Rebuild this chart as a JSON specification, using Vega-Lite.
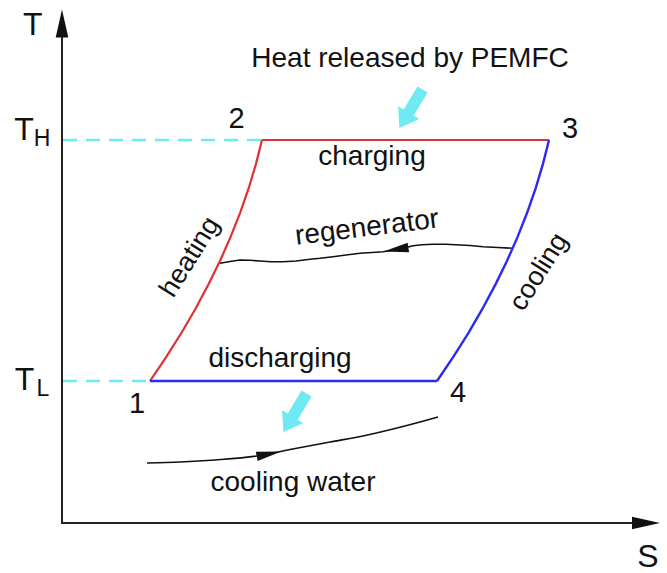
{
  "$schema": "https://vega.github.io/schema/vega-lite/v6.json",
  "width": 667,
  "height": 573,
  "autosize": {"type": "none"},
  "padding": 0,
  "config": {"view": {"stroke": null}, "text": {"font": "Liberation Sans", "color": "#111111"}},
  "datasets": {
    "paths": [
      {"p": "axisY", "i": 0, "s": 62, "t": 523}, {"p": "axisY", "i": 1, "s": 62, "t": 32},
      {"p": "axisX", "i": 0, "s": 61, "t": 523}, {"p": "axisX", "i": 1, "s": 638, "t": 523},
      {"p": "dashH", "i": 0, "s": 63, "t": 140}, {"p": "dashH", "i": 1, "s": 262, "t": 140},
      {"p": "dashL", "i": 0, "s": 63, "t": 381}, {"p": "dashL", "i": 1, "s": 150, "t": 381},
      {"p": "top", "i": 0, "s": 262, "t": 140}, {"p": "top", "i": 1, "s": 549, "t": 140},
      {"p": "heating", "i": 0, "s": 150, "t": 381},
      {"p": "heating", "i": 1, "s": 166.3, "t": 356.9},
      {"p": "heating", "i": 2, "s": 181.5, "t": 332.8},
      {"p": "heating", "i": 3, "s": 195.5, "t": 308.7},
      {"p": "heating", "i": 4, "s": 208.4, "t": 284.6},
      {"p": "heating", "i": 5, "s": 220.2, "t": 260.5},
      {"p": "heating", "i": 6, "s": 230.8, "t": 236.4},
      {"p": "heating", "i": 7, "s": 240.3, "t": 212.3},
      {"p": "heating", "i": 8, "s": 248.7, "t": 188.2},
      {"p": "heating", "i": 9, "s": 255.9, "t": 164.1},
      {"p": "heating", "i": 10, "s": 262, "t": 140},
      {"p": "bottom", "i": 0, "s": 150, "t": 381}, {"p": "bottom", "i": 1, "s": 437, "t": 381},
      {"p": "cooling", "i": 0, "s": 437, "t": 381},
      {"p": "cooling", "i": 1, "s": 453.3, "t": 356.9},
      {"p": "cooling", "i": 2, "s": 468.5, "t": 332.8},
      {"p": "cooling", "i": 3, "s": 482.5, "t": 308.7},
      {"p": "cooling", "i": 4, "s": 495.4, "t": 284.6},
      {"p": "cooling", "i": 5, "s": 507.2, "t": 260.5},
      {"p": "cooling", "i": 6, "s": 517.8, "t": 236.4},
      {"p": "cooling", "i": 7, "s": 527.3, "t": 212.3},
      {"p": "cooling", "i": 8, "s": 535.7, "t": 188.2},
      {"p": "cooling", "i": 9, "s": 542.9, "t": 164.1},
      {"p": "cooling", "i": 10, "s": 549, "t": 140},
      {"p": "regen", "i": 0, "s": 513, "t": 248.3},
      {"p": "regen", "i": 1, "s": 498, "t": 247.5},
      {"p": "regen", "i": 2, "s": 483, "t": 246.7},
      {"p": "regen", "i": 3, "s": 470, "t": 245.5},
      {"p": "regen", "i": 4, "s": 460, "t": 245},
      {"p": "regen", "i": 5, "s": 446, "t": 244.2},
      {"p": "regen", "i": 6, "s": 433, "t": 244.3},
      {"p": "regen", "i": 7, "s": 422, "t": 244.8},
      {"p": "regen", "i": 8, "s": 413, "t": 245.7},
      {"p": "regen", "i": 9, "s": 400, "t": 249},
      {"p": "regen", "i": 10, "s": 383, "t": 251.7},
      {"p": "regen", "i": 11, "s": 372, "t": 252.5},
      {"p": "regen", "i": 12, "s": 360, "t": 253.3},
      {"p": "regen", "i": 13, "s": 346, "t": 255},
      {"p": "regen", "i": 14, "s": 333, "t": 256.7},
      {"p": "regen", "i": 15, "s": 320, "t": 258.3},
      {"p": "regen", "i": 16, "s": 310, "t": 259.3},
      {"p": "regen", "i": 17, "s": 296, "t": 261},
      {"p": "regen", "i": 18, "s": 283, "t": 261.7},
      {"p": "regen", "i": 19, "s": 271, "t": 261.8},
      {"p": "regen", "i": 20, "s": 260, "t": 261},
      {"p": "regen", "i": 21, "s": 250, "t": 260.3},
      {"p": "regen", "i": 22, "s": 240, "t": 260},
      {"p": "regen", "i": 23, "s": 230, "t": 261.5},
      {"p": "regen", "i": 24, "s": 220, "t": 263.3},
      {"p": "water", "i": 0, "s": 147, "t": 463},
      {"p": "water", "i": 1, "s": 180, "t": 462},
      {"p": "water", "i": 2, "s": 215, "t": 460},
      {"p": "water", "i": 3, "s": 257, "t": 456},
      {"p": "water", "i": 4, "s": 290, "t": 449.5},
      {"p": "water", "i": 5, "s": 330, "t": 442},
      {"p": "water", "i": 6, "s": 363, "t": 436},
      {"p": "water", "i": 7, "s": 397, "t": 428},
      {"p": "water", "i": 8, "s": 420, "t": 422},
      {"p": "water", "i": 9, "s": 438, "t": 417}
    ],
    "heads": [
      {"h": "up", "s": 62, "t": 23.5},
      {"h": "right", "s": 646, "t": 523},
      {"h": "regen", "s": 396, "t": 249.5},
      {"h": "water", "s": 269, "t": 454},
      {"h": "heat", "s": 411, "t": 108.7},
      {"h": "cool", "s": 295, "t": 412.8}
    ],
    "texts": [
      {"g": "main", "label": "Heat released by PEMFC", "s": 410, "t": 67},
      {"g": "main", "label": "charging", "s": 372, "t": 165},
      {"g": "main", "label": "discharging", "s": 280, "t": 367},
      {"g": "main", "label": "cooling water", "s": 293, "t": 491},
      {"g": "num", "label": "1", "s": 137, "t": 413},
      {"g": "num", "label": "2", "s": 236.5, "t": 128},
      {"g": "num", "label": "3", "s": 570, "t": 138},
      {"g": "num", "label": "4", "s": 458, "t": 402},
      {"g": "big", "label": "T", "s": 32.7, "t": 35},
      {"g": "big", "label": "S", "s": 648, "t": 567},
      {"g": "big", "label": "T", "s": 24, "t": 140},
      {"g": "big", "label": "T", "s": 24.5, "t": 390},
      {"g": "sub", "label": "H", "s": 42, "t": 146},
      {"g": "sub", "label": "L", "s": 43, "t": 396},
      {"g": "steep", "label": "heating", "s": 190, "t": 257},
      {"g": "steep", "label": "cooling", "s": 539, "t": 272},
      {"g": "tilt", "label": "regenerator", "s": 368, "t": 236}
    ]
  },
  "encoding": {
    "x": {"field": "s", "type": "quantitative", "scale": {"domain": [0, 667], "nice": false, "zero": false}, "axis": null},
    "y": {"field": "t", "type": "quantitative", "scale": {"domain": [0, 573], "reverse": true, "nice": false, "zero": false}, "axis": null}
  },
  "layer": [
    {"data": {"name": "paths"}, "transform": [{"filter": "datum.p === 'dashH' || datum.p === 'dashL'"}],
     "mark": {"type": "line", "color": "#6fe9f2", "strokeWidth": 2.5, "strokeDash": [14, 9]},
     "encoding": {"detail": {"field": "p"}, "order": {"field": "i"}}},
    {"data": {"name": "paths"}, "transform": [{"filter": "datum.p === 'axisY' || datum.p === 'axisX'"}],
     "mark": {"type": "line", "color": "#222222", "strokeWidth": 2},
     "encoding": {"detail": {"field": "p"}, "order": {"field": "i"}}},
    {"data": {"name": "paths"}, "transform": [{"filter": "datum.p === 'regen'"}],
     "mark": {"type": "line", "color": "#111111", "strokeWidth": 1.6},
     "encoding": {"order": {"field": "i"}}},
    {"data": {"name": "paths"}, "transform": [{"filter": "datum.p === 'water'"}],
     "mark": {"type": "line", "color": "#111111", "strokeWidth": 1.6, "interpolate": "monotone"},
     "encoding": {"order": {"field": "i"}}},
    {"data": {"name": "paths"}, "transform": [{"filter": "datum.p === 'top' || datum.p === 'heating'"}],
     "mark": {"type": "line", "color": "#e0302f", "strokeWidth": 2.2},
     "encoding": {"detail": {"field": "p"}, "order": {"field": "i"}}},
    {"data": {"name": "paths"}, "transform": [{"filter": "datum.p === 'bottom' || datum.p === 'cooling'"}],
     "mark": {"type": "line", "color": "#2a2af2", "strokeWidth": 2.4},
     "encoding": {"detail": {"field": "p"}, "order": {"field": "i"}}},
    {"data": {"name": "heads"}, "transform": [{"filter": "datum.h === 'up'"}],
     "mark": {"type": "point", "shape": "M1,0L-1,-0.45L-1,0.45Z", "filled": true, "color": "#111111", "opacity": 1, "size": 784, "angle": 270}},
    {"data": {"name": "heads"}, "transform": [{"filter": "datum.h === 'right'"}],
     "mark": {"type": "point", "shape": "M1,0L-1,-0.45L-1,0.45Z", "filled": true, "color": "#111111", "opacity": 1, "size": 784, "angle": 0}},
    {"data": {"name": "heads"}, "transform": [{"filter": "datum.h === 'regen'"}],
     "mark": {"type": "point", "shape": "M1,0L-1,-0.38L-1,0.38Z", "filled": true, "color": "#111111", "opacity": 1, "size": 625, "angle": 171}},
    {"data": {"name": "heads"}, "transform": [{"filter": "datum.h === 'water'"}],
     "mark": {"type": "point", "shape": "M1,0L-1,-0.38L-1,0.38Z", "filled": true, "color": "#111111", "opacity": 1, "size": 625, "angle": 349}},
    {"data": {"name": "heads"}, "transform": [{"filter": "datum.h === 'heat' || datum.h === 'cool'"}],
     "mark": {"type": "point", "shape": "M-1,-0.26L0.2,-0.26L0.2,-0.55L1,0L0.2,0.55L0.2,0.26L-1,0.26Z", "filled": true, "color": "#6fe9f2", "opacity": 1, "size": 2025, "angle": 121}},
    {"data": {"name": "texts"}, "transform": [{"filter": "datum.g === 'main'"}],
     "mark": {"type": "text", "fontSize": 28, "align": "center", "baseline": "alphabetic"},
     "encoding": {"text": {"field": "label"}}},
    {"data": {"name": "texts"}, "transform": [{"filter": "datum.g === 'num'"}],
     "mark": {"type": "text", "fontSize": 29, "align": "center", "baseline": "alphabetic"},
     "encoding": {"text": {"field": "label"}}},
    {"data": {"name": "texts"}, "transform": [{"filter": "datum.g === 'big'"}],
     "mark": {"type": "text", "fontSize": 32, "align": "center", "baseline": "alphabetic"},
     "encoding": {"text": {"field": "label"}}},
    {"data": {"name": "texts"}, "transform": [{"filter": "datum.g === 'sub'"}],
     "mark": {"type": "text", "fontSize": 23, "align": "center", "baseline": "alphabetic"},
     "encoding": {"text": {"field": "label"}}},
    {"data": {"name": "texts"}, "transform": [{"filter": "datum.g === 'steep'"}],
     "mark": {"type": "text", "fontSize": 27, "align": "center", "baseline": "middle", "angle": 302},
     "encoding": {"text": {"field": "label"}}},
    {"data": {"name": "texts"}, "transform": [{"filter": "datum.g === 'tilt'"}],
     "mark": {"type": "text", "fontSize": 28, "align": "center", "baseline": "alphabetic", "angle": 353},
     "encoding": {"text": {"field": "label"}}}
  ]
}
